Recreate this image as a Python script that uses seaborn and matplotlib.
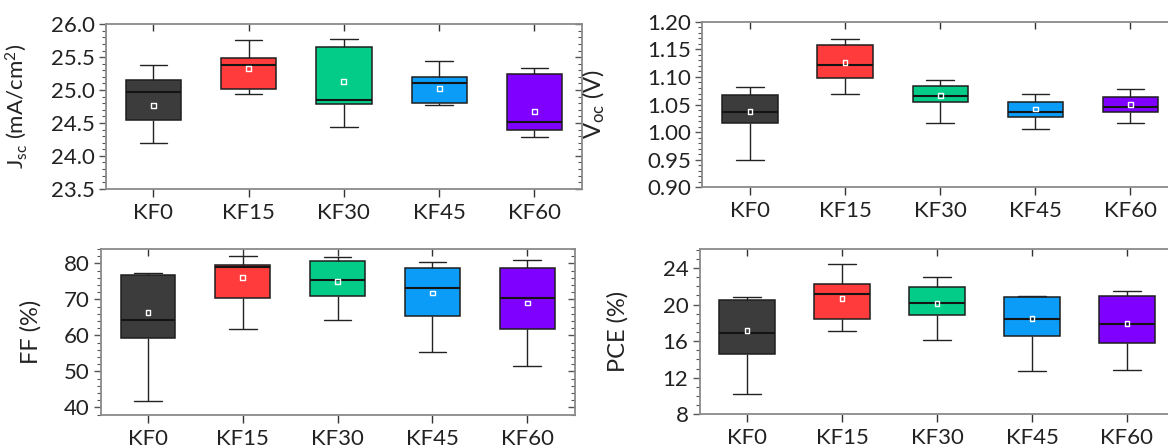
import numpy as np
import pandas as pd
import matplotlib
matplotlib.use("Agg")
import matplotlib.pyplot as plt
from matplotlib.ticker import MultipleLocator, FormatStrFormatter
import seaborn as sns

sns.set_theme(style="white")
plt.rcParams['font.family'] = ['Lato', 'DejaVu Sans']
plt.rcParams['mathtext.fontset'] = 'custom'
plt.rcParams['mathtext.rm'] = 'Lato'
plt.rcParams['mathtext.it'] = 'Lato:italic'

categories = ["KF0", "KF15", "KF30", "KF45", "KF60"]
colors = ["#3c3c3c", "#ff3b3b", "#03cc88", "#0a9cf7", "#8000ff"]

# five-number summaries: [min, Q1, median, Q3, max]
jsc_stats = [[24.19, 24.54, 24.97, 25.16, 25.38],
             [24.94, 25.01, 25.38, 25.48, 25.76],
             [24.44, 24.79, 24.85, 25.65, 25.78],
             [24.78, 24.80, 25.11, 25.20, 25.44],
             [24.28, 24.39, 24.52, 25.24, 25.33]]
jsc_mean = [24.77, 25.33, 25.13, 25.02, 24.68]

voc_stats = [[0.949, 1.016, 1.037, 1.068, 1.081],
             [1.070, 1.099, 1.121, 1.158, 1.168],
             [1.017, 1.054, 1.065, 1.084, 1.095],
             [1.005, 1.028, 1.036, 1.055, 1.069],
             [1.017, 1.037, 1.045, 1.063, 1.079]]
voc_mean = [1.037, 1.126, 1.066, 1.042, 1.050]

ff_stats = [[41.9, 59.3, 64.4, 76.9, 77.4],
            [61.7, 70.3, 78.9, 79.6, 82.1],
            [64.4, 70.9, 75.5, 80.8, 81.9],
            [55.3, 65.4, 73.3, 78.8, 80.5],
            [51.4, 61.7, 70.3, 78.8, 80.9]]
ff_mean = [66.3, 76.0, 75.0, 71.8, 69.0]

pce_stats = [[10.18, 14.55, 16.84, 20.50, 20.87],
             [17.05, 18.47, 21.20, 22.25, 24.47],
             [16.07, 18.87, 20.15, 21.96, 23.05],
             [12.73, 16.58, 18.47, 20.84, 20.98],
             [12.83, 15.76, 17.91, 20.90, 21.49]]
pce_mean = [17.13, 20.62, 20.12, 18.47, 17.96]

W, H = 1168, 448
fig = plt.figure(figsize=(W / 100, H / 100), dpi=100)

def frac(l, t, r, b):
    return [l / W, 1 - b / H, (r - l) / W, (b - t) / H]

panels = [
    dict(stats=jsc_stats, mean=jsc_mean, rect=frac(105.8, 24.3, 582, 188.7),
         ylim=(23.5, 26.0), major=0.5, minor=0.1, fmt='%.1f',
         label=r'J$_{\rm sc}$ (mA/cm$^{2}$)', lx=-0.162, lsize=16, right=True),
    dict(stats=voc_stats, mean=voc_mean, rect=frac(702.4, 21.7, 1178, 187.5),
         ylim=(0.90, 1.20), major=0.05, minor=0.01, fmt='%.2f',
         label=r'V$_{\rm oc}$ (V)', lx=-0.200, lsize=17, right=False),
    dict(stats=ff_stats, mean=ff_mean, rect=frac(100.6, 248.7, 574.6, 415),
         ylim=(37.9, 84.1), major=10, minor=2, fmt='%d',
         label='FF (%)', lx=-0.125, lsize=17, right=True),
    dict(stats=pce_stats, mean=pce_mean, rect=frac(699.5, 248.7, 1174.5, 414.3),
         ylim=(8, 26.1), major=4, minor=1, fmt='%d',
         label='PCE (%)', lx=-0.150, lsize=17, right=False),
]

for p in panels:
    ax = fig.add_axes(p['rect'])
    rows = []
    for cat, st in zip(categories, p['stats']):
        for v in st:
            rows.append((cat, v))
    df = pd.DataFrame(rows, columns=['cat', 'val'])
    sns.boxplot(data=df, x='cat', y='val', hue='cat', order=categories,
                hue_order=categories, palette=colors, saturation=1,
                whis=(0, 100), width=0.58, linewidth=1.1, linecolor='#1e1e1e',
                fliersize=0, legend=False, ax=ax,
                medianprops=dict(color='#141414', linewidth=1.5),
                whiskerprops=dict(color='#222222', linewidth=1.0),
                capprops=dict(color='#222222', linewidth=1.0))
    ax.scatter(np.arange(len(categories)), p['mean'], marker='s', s=12,
               facecolors='none', edgecolors='white', linewidths=1.0, zorder=6)
    ax.set_xlim(-0.5, 4.5)
    ax.set_ylim(*p['ylim'])
    ax.yaxis.set_major_locator(MultipleLocator(p['major']))
    ax.yaxis.set_minor_locator(MultipleLocator(p['minor']))
    ax.yaxis.set_major_formatter(FormatStrFormatter(p['fmt']))
    ax.set_xticks(range(len(categories)))
    ax.set_xticklabels(categories)
    ax.set_xlabel('')
    ax.set_ylabel(p['label'], fontsize=p['lsize'], color='#222222')
    ax.yaxis.set_label_coords(p['lx'], 0.5)
    for s in ax.spines.values():
        s.set_visible(True)
        s.set_color('#8a8a8a')
        s.set_linewidth(1.3)
    ax.tick_params(axis='x', which='major', bottom=True, top=True,
                   length=6, width=1, color='#333333',
                   labelsize=16, labelcolor='#222222', pad=4)
    for t in ax.xaxis.get_major_ticks():
        t.tick2line.set_marker(matplotlib.lines.TICKDOWN)
        t.tick2line.set_markersize(5)
        t.tick1line.set_marker(matplotlib.lines.TICKDOWN)
        t.tick1line.set_markersize(6)
    ax.tick_params(axis='y', which='major', left=True, right=p['right'],
                   direction='out', length=5, width=1, color='#555555',
                   labelsize=16, labelcolor='#222222', pad=3)
    ax.tick_params(axis='y', which='minor', left=True, right=p['right'],
                   direction='out', length=3, width=0.8, color='#555555')
    if p['right']:
        for t in ax.yaxis.get_major_ticks() + ax.yaxis.get_minor_ticks():
            t.tick2line.set_marker(matplotlib.lines.TICKLEFT)
    ax.grid(False)

fig.savefig('out.png', dpi=100, facecolor='white')
